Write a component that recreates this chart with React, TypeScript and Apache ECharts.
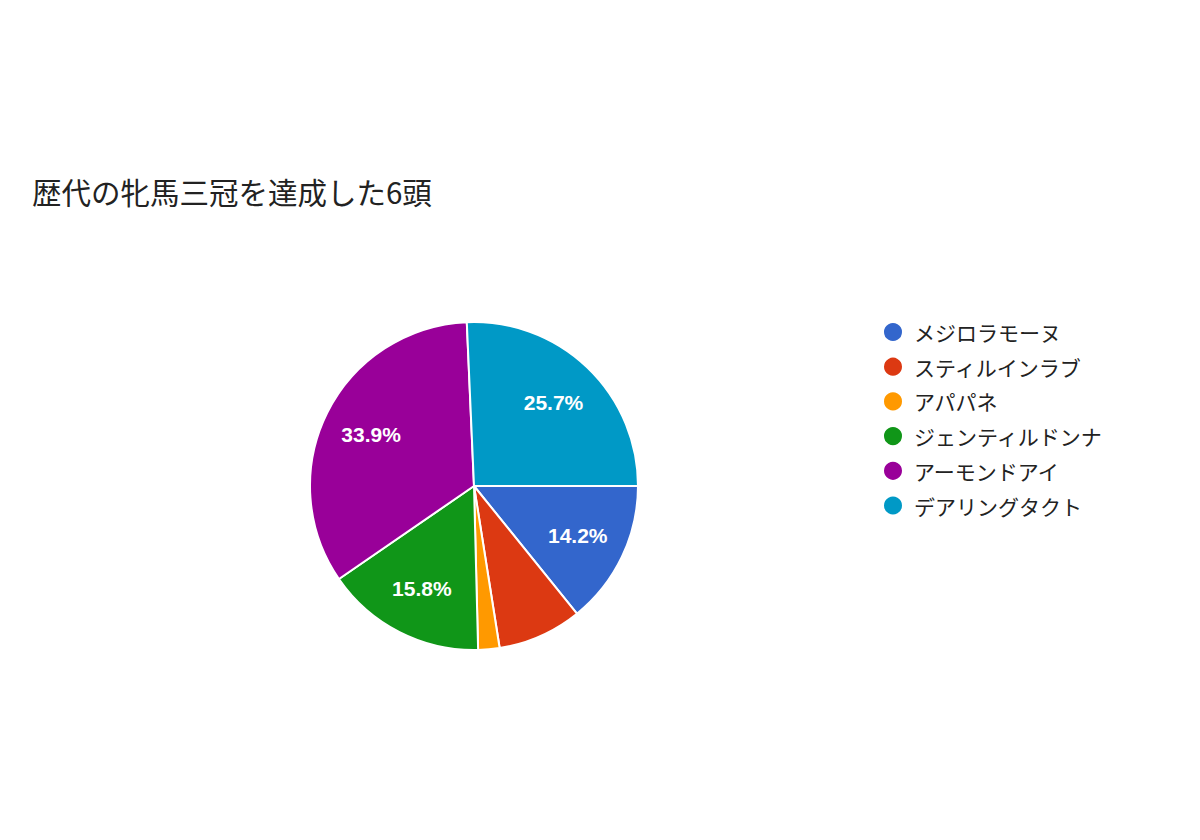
import { useEffect, useRef } from 'react';
import * as echarts from 'echarts';

const horses = ['メジロラモーヌ', 'スティルインラブ', 'アパパネ', 'ジェンティルドンナ', 'アーモンドアイ', 'デアリングタクト'];
const shares = [14.2, 8.3, 2.1, 15.8, 33.9, 25.7];
const colors = ['#3366cc', '#dc3912', '#ff9900', '#109618', '#990099', '#0099c6'];

const FONT = '"Noto Sans CJK JP", "Noto Sans", sans-serif';

export default function App() {
  const chartRef = useRef<HTMLDivElement>(null);

  useEffect(() => {
    if (!chartRef.current) return;
    const chart = echarts.init(chartRef.current, undefined, { renderer: 'svg' });

    const pieData = horses.map((name, i) => ({
      name,
      value: shares[i],
      itemStyle: { color: colors[i] },
    }));

    // transparent ring on top, only to place the % labels further out like the original
    const labelData = horses.map((name, i) => ({
      name,
      value: shares[i],
      label: { show: shares[i] >= 10 },
    }));

    chart.setOption({
      animation: false,
      backgroundColor: '#fff',
      title: {
        text: '歴代の牝馬三冠を達成した6頭',
        left: 32,
        top: 176,
        padding: 0,
        textStyle: { fontFamily: FONT, fontSize: 29.5, fontWeight: 'normal', color: '#222' },
      },
      legend: {
        orient: 'vertical',
        left: 882,
        top: 321,
        padding: 0,
        data: horses,
        icon: 'circle',
        itemWidth: 20,
        itemHeight: 20,
        itemGap: 12.7,
        selectedMode: false,
        textStyle: { fontFamily: FONT, fontSize: 21, color: '#222', padding: [0, 0, 0, 6] },
      },
      series: [
        {
          type: 'pie',
          center: [474, 486],
          radius: 164,
          startAngle: 0,
          clockwise: true,
          label: { show: false },
          labelLine: { show: false },
          emphasis: { disabled: true },
          itemStyle: { borderColor: '#fff', borderWidth: 2 },
          data: pieData,
        },
        {
          type: 'pie',
          center: [474, 486],
          radius: [60, 164],
          startAngle: 0,
          clockwise: true,
          silent: true,
          emphasis: { disabled: true },
          itemStyle: { color: 'rgba(0,0,0,0)', borderWidth: 0 },
          label: {
            position: 'inside',
            formatter: (p: any) => p.value.toFixed(1) + '%',
            color: '#fff',
            fontFamily: 'Liberation Sans, Arial, sans-serif',
            fontSize: 21,
            fontWeight: 'bold',
          },
          labelLine: { show: false },
          data: labelData,
        },
      ],
    });

    return () => {
      chart.dispose();
    };
  }, []);

  return (
    <div
      ref={chartRef}
      style={{ position: 'fixed', left: 0, top: 0, width: 1200, height: 840 }}
    />
  );
}
